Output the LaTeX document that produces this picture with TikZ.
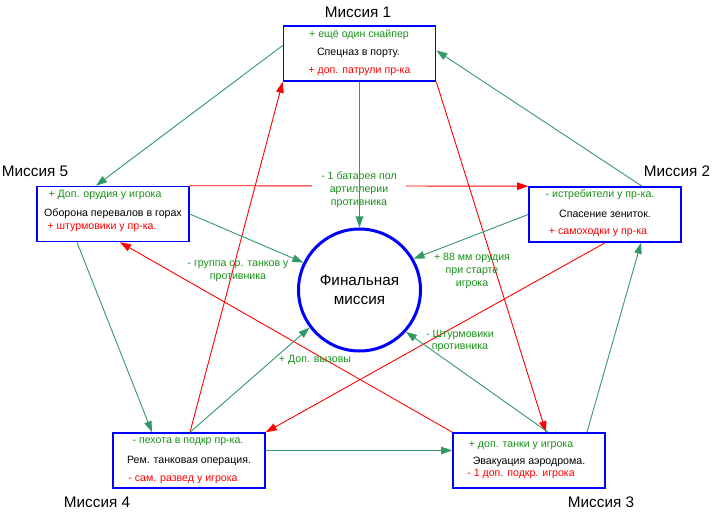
\documentclass[tikz,border=0pt]{standalone}
\usepackage{fontspec}
\setmainfont{Liberation Sans}
\usetikzlibrary{arrows.meta,calc}
\definecolor{lgreen}{RGB}{51,153,102}
\definecolor{tgreen}{RGB}{25,145,25}
\definecolor{bblue}{RGB}{0,0,255}
\definecolor{rred}{RGB}{255,0,0}
\newcommand\myfs{\fontsize{10.6bp}{12.8bp}\selectfont}
\newcommand\myfb{\fontsize{15.3bp}{19bp}\selectfont}
\tikzset{
  box/.style={draw=bblue,line width=1.6bp,minimum width=152bp,minimum height=55bp,inner sep=0pt,fill=white},
  fincircle/.style={circle,draw=bblue,line width=3bp,minimum size=122bp,inner sep=0pt,align=center,font=\myfb},
  gtxt/.style={text=tgreen,font=\myfs,inner sep=0pt},
  btxt/.style={text=black,font=\myfs,inner sep=0pt},
  rtxt/.style={text=rred,font=\myfs,inner sep=0pt},
  titletxt/.style={text=black,font=\myfb,inner sep=0pt},
  elabel/.style={text=tgreen,font=\myfs,align=center,inner sep=0pt},
  gline/.style={draw=lgreen,line width=0.9bp,-{Triangle[length=11bp,width=7.5bp]}},
  rline/.style={draw=rred,line width=0.9bp,-{Triangle[length=11bp,width=7.5bp]}}
}
\begin{document}
\begin{tikzpicture}[x=1bp,y=-1bp]
\useasboundingbox (0,0) rectangle (712,513);
% boxes
\node[box] (m1) at (359.5,53.5) {};
\node[box] (m5) at (113,214) {};
\node[box] (m2) at (605,214.5) {};
\node[box] (m4) at (189,460.5) {};
\node[box] (m3) at (529,460.5) {};
\node[fincircle] (fin) at (359.5,290) {Финальная\\миссия};
% titles
\node[titletxt] (t1) at (358,12) {Миссия 1};
\node[titletxt] (t5) at (35,171) {Миссия 5};
\node[titletxt] (t2) at (677,171) {Миссия 2};
\node[titletxt] (t4) at (97,502) {Миссия 4};
\node[titletxt] (t3) at (601,502) {Миссия 3};
% box texts
\node[gtxt] (m1g) at (359,35) {+ ещё один снайпер};
\node[btxt] (m1b) at (358.5,53) {Спецназ в порту.};
\node[rtxt] (m1r) at (359.5,72) {+ доп. патрули пр-ка};
\node[gtxt] (m5g) at (105,195) {+ Доп. орудия у игрока};
\node[btxt] (m5b) at (113,214) {Оборона перевалов в горах};
\node[rtxt] (m5r) at (102,228) {+ штурмовики у пр-ка.};
\node[gtxt] (m2g) at (600,195) {- истребители у пр-ка.};
\node[btxt] (m2b) at (605,214) {Спасение зениток.};
\node[rtxt] (m2r) at (598,233) {+ самоходки у пр-ка};
\node[gtxt] (m4g) at (188,442) {- пехота в подкр пр-ка.};
\node[btxt] (m4b) at (189,461) {Рем. танковая операция.};
\node[rtxt] (m4r) at (183,480) {- сам. развед у игрока};
\node[gtxt] (m3g) at (521,446) {+ доп. танки у игрока};
\node[btxt] (m3b) at (529,462) {Эвакуация аэродрома.};
\node[rtxt] (m3r) at (521,474) {- 1 доп. подкр. игрока};
% red connectors
\draw[rline] (m5.north east) -- (m2.north west);
\draw[rline] (m1.south east) -- ($(m3.north)+(17,0)$);
\draw[rline] ($(m4.north)+(1,0)$) -- (m1.south west);
\draw[rline] (m3.north west) -- ($(m5.south)+(7,0)$);
\draw[rline] (m2.south) -- (m4.north east);
% label with white background
\node[elabel,fill=white,inner xsep=9bp,inner ysep=1bp] (l6) at (359,190) {- 1 батарея пол\\артиллерии\\противника};
% green connectors
\draw[gline] ($(m1.west)+(0,-8)$) -- ($(m5.north)+(-17,0)$);
\draw[gline] ($(m2.north)+(37,0)$) -- ($(m1.east)+(0,-3)$);
\draw[gline] ($(m3.north)+(58,0)$) -- ($(m2.south)+(36,0)$);
\draw[gline] ($(m4.east)+(0,-10)$) -- ($(m3.west)+(0,-10)$);
\draw[gline] ($(m5.south)+(-36,0)$) -- ($(m4.north)+(-37,0)$);
\draw[gline] (m1.south) -- (fin.north);
\draw[gline] (m5.east) -- (fin.154);
\draw[gline] (m2.west) -- (fin.30);
\draw[gline] ($(m4.north)+(1,0)$) -- (fin.217);
\draw[gline] ($(m3.north)+(19,0)$) -- (fin.318);
% edge labels
\node[elabel] (l7) at (238,271) {- группа ср. танков у\\противника};
\node[elabel] (l8) at (472,271) {+ 88 мм орудия\\при старте\\игрока};
\node[elabel] (l9) at (315,360) {+ Доп. вызовы};
\node[elabel] (l10) at (460,341) {- Штурмовики\\противника};
\end{tikzpicture}
\end{document}
